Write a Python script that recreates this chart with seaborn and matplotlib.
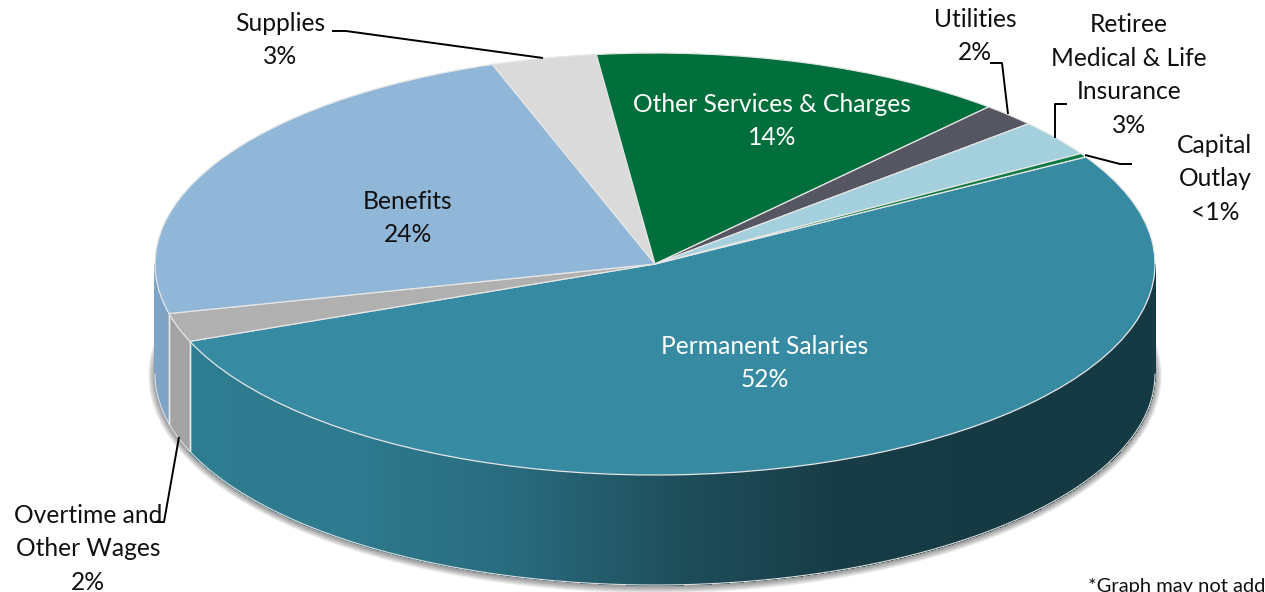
import numpy as np
import matplotlib
matplotlib.use('Agg')
import matplotlib.pyplot as plt
from matplotlib.patches import Ellipse
import seaborn as sns

# slices, clockwise from the Capital Outlay / Permanent Salaries boundary
categories = ['Permanent Salaries', 'Overtime and Other Wages', 'Benefits', 'Supplies',
              'Other Services & Charges', 'Utilities', 'Retiree Medical & Life Insurance',
              'Capital Outlay']
shares = [52.5, 2.2, 23.5, 3.4, 13.5, 1.8, 2.8, 0.3]
top_colors = ['#368AA2', '#B0B0B0', '#91B7D8', '#DADADA', '#016F3B', '#565663', '#A3D0DC', '#0B7A42']
wall_colors = {'Permanent Salaries': ['#2E7C91', '#2E7A8E', '#296B7E', '#1F4F5C', '#173C46', '#163A44', '#163A44'],
               'Overtime and Other Wages': ['#A3A3A3', '#A3A3A3'],
               'Benefits': ['#7FA3C4', '#7C9FBF']}

# pixel geometry of the pie in the 1265x592 picture
CX, CY, RX, RY, DEPTH = 655, 264, 500, 211, 110
START_ANGLE = 30.5


def px(x, y):
    """ picture pixels -> data units (unit circle = top of the pie) """
    return (x - CX) / RX, (CY - y) / RY


sns.set_theme(style='white')
plt.rcParams['font.family'] = ['Lato', 'DejaVu Sans']

fig = plt.figure(figsize=(12.65, 5.92), dpi=100)
ax = fig.add_axes([0, 0, 1, 1])
depth = DEPTH / RY

# soft shadow under the rim
for grow in np.arange(0.5, 7.5, 0.5):
    ax.add_patch(Ellipse((0, -depth - 1.5 / RY), 2 * (1 + grow / RX), 2 * (1 + grow / RY),
                         facecolor='black', edgecolor='none', alpha=0.03, zorder=1))

# side wall: angle steps inside each slice, colour follows x
ends = START_ANGLE - np.cumsum(shares) * 3.6
starts = np.r_[START_ANGLE, ends[:-1]]
for name, a0, a1 in zip(categories, starts, ends):
    if name not in wall_colors:
        continue
    # only the front half of the wall can be seen
    wall_end = 360 if a0 > 0 else a0 % 360
    wall_start = max(a1 % 360, 180)
    angles = np.arange(wall_start, wall_end + 0.25, 0.25)
    angles[-1] = wall_end
    ramp = sns.blend_palette(wall_colors[name], 256)
    left = np.cos(np.radians(wall_start))
    for t0, t1 in zip(angles[:-1], angles[1:]):
        xs = np.cos(np.radians([t0, t1]))
        ys = np.sin(np.radians([t0, t1]))
        frac = (xs.mean() - left) / (1 - left)
        col = ramp[int(np.clip(frac, 0, 1) * 255)]
        ax.fill([xs[0], xs[1], xs[1], xs[0]], [ys[0], ys[1], ys[1] - depth, ys[0] - depth],
                facecolor=col, edgecolor=col, lw=0.5, antialiased=False, zorder=2)
    # light seam at the slice boundaries and along the bottom rim
    t = np.radians(np.linspace(wall_start, wall_end, 200))
    ax.plot(np.cos(t), np.sin(t) - depth, color='#DDDDDD', lw=0.8, zorder=3)
    for b in (wall_start, wall_end):
        if 180 < b < 360:
            bx, by = np.cos(np.radians(b)), np.sin(np.radians(b))
            ax.plot([bx, bx], [by, by - depth], color='#E8E8E8', lw=1.0, zorder=3)

# top face
wedges, _ = ax.pie(shares, colors=top_colors, startangle=START_ANGLE, counterclock=False,
                   radius=1, center=(0, 0), frame=True,
                   wedgeprops={'edgecolor': '#E6E6E6', 'linewidth': 0.9})
for w in wedges:
    w.set_zorder(4)

ax.set_aspect('auto')
ax.set_xlim(px(0, 0)[0], px(1265, 0)[0])
ax.set_ylim(px(0, 592)[1], px(0, 0)[1])
ax.axis('off')

# labels
dark = '#111111'
labels = [
    ('Supplies\n3%', 280, 40, dark),
    ('Utilities\n2%', 975, 36, dark),
    ('Retiree\nMedical & Life\nInsurance\n3%', 1129, 75, dark),
    ('Capital\nOutlay\n<1%', 1215, 179, dark),
    ('Overtime and\nOther Wages\n2%', 88, 549, dark),
    ('Other Services & Charges\n14%', 772, 121, 'white'),
    ('Benefits\n24%', 408, 218, dark),
    ('Permanent Salaries\n52%', 765, 363, 'white'),
]
for text, x, y, col in labels:
    lx, ly = px(x, y)
    ax.text(lx, ly, text, ha='center', va='center', color=col, fontsize=17.7,
            linespacing=1.56, zorder=6)

# leader lines
leaders = [
    [(332, 31), (346, 31), (543, 58)],
    [(990, 63), (1002, 63), (1008, 114)],
    [(1067, 104), (1055, 104), (1055, 138)],
    [(1085, 155), (1120, 164), (1132, 164)],
    [(179, 437), (164, 522), (155, 522)],
]
for pts in leaders:
    xy = np.array([px(*p) for p in pts])
    ax.plot(xy[:, 0], xy[:, 1], color='black', lw=1.4, zorder=5, solid_capstyle='butt')

nx, ny = px(1088, 592)
ax.text(nx, ny, '*Graph may not add', ha='left', va='baseline', color=dark, fontsize=14.5, zorder=6)

fig.savefig('out.png', dpi=100, facecolor='white')
